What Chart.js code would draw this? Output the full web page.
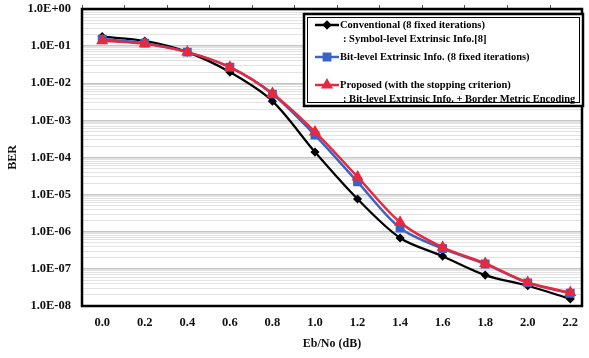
<!DOCTYPE html>
<html>
<head>
<meta charset="utf-8">
<script src="https://cdn.jsdelivr.net/npm/chart.js@4/dist/chart.umd.min.js"></script>
<style>
  html, body { margin: 0; padding: 0; background: #fff; }
  #wrap { width: 589px; height: 358px; }
</style>
</head>
<body>
<div id="wrap"><canvas id="ber-chart"></canvas></div>
<script>
// Eb/N0 points (dB)
const snrValues = [0.0, 0.2, 0.4, 0.6, 0.8, 1.0, 1.2, 1.4, 1.6, 1.8, 2.0, 2.2];

// BER
const berConventional = [0.18, 0.138, 0.069, 0.020, 3.3e-3, 1.4e-4, 7.6e-6, 6.8e-7, 2.2e-7, 6.8e-8, 3.5e-8, 1.55e-8];
const berBitLevel     = [0.155, 0.12, 0.069, 0.027, 5.1e-3, 4.0e-4, 2.2e-5, 1.26e-6, 3.5e-7, 1.35e-7, 4.2e-8, 2.2e-8];
const berProposed     = [0.14, 0.115, 0.069, 0.027, 5.3e-3, 4.9e-4, 3.0e-5, 1.8e-6, 3.8e-7, 1.4e-7, 4.3e-8, 2.3e-8];

// y axis: decades from 1E-08 to 1E+00
const minExp = -8;
const maxExp = 0;

// x range (a bit more room on the left than on the right, as in the original)
const xMin = -0.095;
const xMax = 2.255;

const serif = "'Liberation Serif', 'DejaVu Serif', serif";

function fmtExp(v) {
  const e = Math.round(Math.log10(v));
  return '1.0E' + (e < 0 ? '-' : '+') + String(Math.abs(e)).padStart(2, '0');
}
function isDecade(v) {
  const e = Math.log10(v);
  return Math.abs(e - Math.round(e)) < 1e-6;
}
const toPoints = ys => snrValues.map((x, i) => ({ x: x, y: ys[i] }));

// legend text (two-line entries like the original)
const legendEntries = [
  { ds: 0, lines: ['Conventional (8 fixed iterations)', ': Symbol-level Extrinsic Info.[8]'] },
  { ds: 1, lines: ['Bit-level Extrinsic Info. (8 fixed iterations)'] },
  { ds: 2, lines: ['Proposed (with the stopping criterion)', ': Bit-level Extrinsic Info. + Border Metric Encoding'] }
];

// frame around the plot area
const framePlugin = {
  id: 'frame',
  beforeDatasetsDraw(chart) {
    const { ctx, chartArea: a } = chart;
    ctx.save();
    ctx.strokeStyle = '#000';
    ctx.lineWidth = 2.5;
    ctx.strokeRect(a.left, a.top, a.right - a.left, a.bottom - a.top);
    ctx.restore();
  }
};

// boxed legend in the top right corner
const boxLegend = {
  id: 'boxLegend',
  afterDraw(chart) {
    const ctx = chart.ctx;
    const x0 = 304, y0 = 14, w = 279, h = 92;
    ctx.save();
    ctx.fillStyle = '#fff';
    ctx.fillRect(x0, y0, w, h);
    ctx.strokeStyle = '#000';
    ctx.lineWidth = 2.5;
    ctx.strokeRect(x0, y0, w, h);
    ctx.lineWidth = 1;
    ctx.strokeRect(x0 + 3.5, y0 + 3.5, w - 7, h - 7);

    const rows = [25, 57, 85];
    ctx.font = 'bold 10.5px ' + serif;
    ctx.textBaseline = 'middle';
    legendEntries.forEach((ent, i) => {
      const ds = chart.data.datasets[ent.ds];
      const y = rows[i];
      ctx.strokeStyle = ds.borderColor;
      ctx.lineWidth = 2.5;
      ctx.beginPath();
      ctx.moveTo(315, y);
      ctx.lineTo(339, y);
      ctx.stroke();
      ctx.fillStyle = ds.pointBackgroundColor;
      ctx.strokeStyle = ds.pointBorderColor;
      Chart.helpers.drawPoint(ctx, {
        pointStyle: ds.pointStyle, radius: ds.pointRadius, rotation: 0, borderWidth: 1
      }, 327, y);
      ctx.fillStyle = '#000';
      ent.lines.forEach((t, k) => {
        ctx.fillText(t, k === 0 ? 340 : 343, y + k * 14.5);
      });
    });
    ctx.restore();
  }
};

const chartCanvas = document.querySelector('#ber-chart');

const berChart = new Chart(chartCanvas, {
  type: 'line',
  data: {
    datasets: [
      {
        label: 'Conventional',
        data: toPoints(berConventional),
        borderColor: '#000000',
        backgroundColor: '#000000',
        pointBackgroundColor: '#000000',
        pointBorderColor: '#000000',
        pointStyle: 'rectRot',
        pointRadius: 3,
        borderWidth: 2.2,
        tension: 0.3,
        order: 2
      },
      {
        label: 'Bit-level',
        data: toPoints(berBitLevel),
        borderColor: '#3a63c4',
        backgroundColor: '#3a63c4',
        pointBackgroundColor: '#3a63c4',
        pointBorderColor: '#3a63c4',
        pointStyle: 'rect',
        pointRadius: 4.5,
        borderWidth: 2.5,
        tension: 0.3,
        order: 1
      },
      {
        label: 'Proposed',
        data: toPoints(berProposed),
        borderColor: '#e8283f',
        backgroundColor: '#e8283f',
        pointBackgroundColor: '#e8283f',
        pointBorderColor: '#e8283f',
        pointStyle: 'triangle',
        pointRadius: 4.5,
        borderWidth: 2.5,
        tension: 0.3,
        order: 0
      }
    ]
  },
  options: {
    responsive: true,
    maintainAspectRatio: false,
    animation: false,
    devicePixelRatio: 1,
    layout: { padding: { top: 5, right: 7, bottom: 0, left: 0 } },
    plugins: {
      legend: { display: false },
      tooltip: { enabled: false }
    },
    scales: {
      x: {
        type: 'linear',
        min: xMin,
        max: xMax,
        afterBuildTicks: scale => {
          scale.ticks = snrValues.map(v => ({ value: v }));
        },
        grid: { display: false, drawTicks: false },
        border: { display: false },
        ticks: {
          color: '#111',
          padding: 9,
          font: { family: serif, size: 12.5, weight: 'bold' },
          callback: v => Number(v).toFixed(1)
        },
        title: {
          display: true,
          text: 'Eb/No (dB)',
          color: '#111',
          padding: { top: 0, bottom: 7 },
          font: { family: serif, size: 12, weight: 'bold' }
        },
        afterFit: s => { s.height = 52; s.paddingLeft = 0; s.paddingRight = 0; }
      },
      xTop: {
        type: 'linear',
        position: 'top',
        min: xMin,
        max: xMax,
        afterBuildTicks: scale => {
          scale.ticks = snrValues.map(v => ({ value: xMin + v }));
        },
        grid: { drawOnChartArea: false, tickLength: 4, color: '#555' },
        border: { display: false },
        ticks: { display: false },
        afterFit: s => { s.height = 4; }
      },
      y: {
        type: 'logarithmic',
        min: Math.pow(10, minExp),
        max: Math.pow(10, maxExp),
        afterBuildTicks: scale => {
          const t = [];
          for (let e = minExp; e <= maxExp; e++) {
            for (let m = 1; m <= 9; m++) {
              if (e === maxExp && m > 1) break;
              t.push({ value: m * Math.pow(10, e) });
            }
          }
          scale.ticks = t;
        },
        grid: {
          drawTicks: false,
          color: c => (c.tick && isDecade(c.tick.value)) ? '#c4c4c4' : '#e2e2e2',
          lineWidth: c => (c.tick && isDecade(c.tick.value)) ? 1.5 : 1
        },
        border: { display: false },
        ticks: {
          autoSkip: false,
          color: '#111',
          padding: 11,
          font: { family: serif, size: 12.5, weight: 'bold' },
          callback: v => isDecade(v) ? fmtExp(v) : ''
        },
        title: {
          display: true,
          text: 'BER',
          color: '#111',
          padding: { top: 6, bottom: 0 },
          font: { family: serif, size: 12, weight: 'bold' }
        },
        afterFit: s => { s.width = 82; s.paddingTop = 0; s.paddingBottom = 0; }
      }
    }
  },
  plugins: [framePlugin, boxLegend]
});
</script>
</body>
</html>
